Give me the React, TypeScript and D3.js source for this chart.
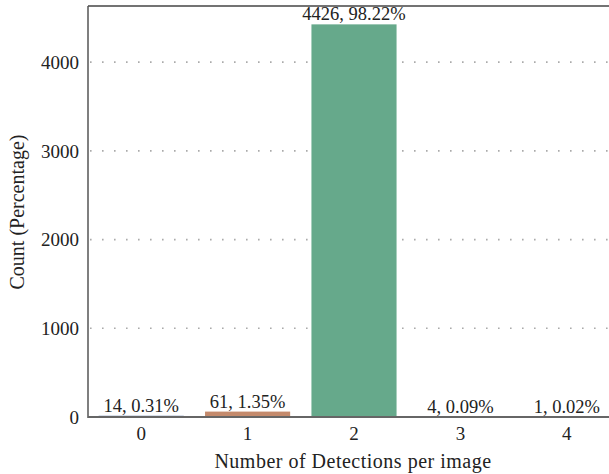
import React from "react";
import * as d3 from "d3";

const categories = ["0", "1", "2", "3", "4"];
const counts = [14, 61, 4426, 4, 1];
const percents = ["0.31%", "1.35%", "98.22%", "0.09%", "0.02%"];
const barColors = ["#5b77a6", "#c48a6c", "#66a98b", "#b65f62", "#8677a9"];
const yTicks = [0, 1000, 2000, 3000, 4000];

const W = 609;
const H = 474;
const left = 88;
const top = 6;
const bottom = 417;
const rightEdge = 620;
const FONT = "'Liberation Serif', 'Times New Roman', serif";

export default function App() {
  const x = d3.scaleBand<string>().domain(categories).range([left, rightEdge]).paddingInner(0.2).paddingOuter(0.1);
  const y = d3.scaleLinear().domain([0, 4633]).range([bottom, top]);

  return (
    <svg width={W} height={H} style={{ position: "absolute", left: 0, top: 0, background: "#fff" }} fontFamily={FONT}>
      {yTicks.filter((t) => t > 0).map((t) => (
        <line key={"g" + t} x1={left + 2} x2={W} y1={y(t)} y2={y(t)} stroke="#aaa" strokeWidth={1.6} strokeDasharray="1.6,10.4" />
      ))}
      {categories.map((c, i) => (
        <rect key={"b" + c} x={x(c)} y={y(counts[i])} width={x.bandwidth()} height={bottom - y(counts[i])} fill={barColors[i]} />
      ))}
      {categories.map((c, i) => (
        <text key={"l" + c} x={(x(c) as number) + x.bandwidth() / 2} y={y(counts[i]) - 4} textAnchor="middle" fontSize={18.5} fill="#222">
          {counts[i]}, {percents[i]}
        </text>
      ))}
      <line x1={left} x2={W} y1={top} y2={top} stroke="#444" strokeWidth={1.5} />
      <line x1={left} x2={left} y1={top} y2={bottom + 1} stroke="#555" strokeWidth={1.5} />
      <line x1={left} x2={W} y1={bottom} y2={bottom} stroke="#666" strokeWidth={2} />
      {yTicks.map((t) => (
        <text key={"t" + t} x={79} y={y(t)} dy="0.35em" textAnchor="end" fontSize={19} fill="#222">
          {t}
        </text>
      ))}
      {categories.map((c) => (
        <text key={"x" + c} x={(x(c) as number) + x.bandwidth() / 2} y={440} textAnchor="middle" fontSize={19} fill="#222">
          {c}
        </text>
      ))}
      <text x={353} y={468} textAnchor="middle" fontSize={20} letterSpacing={0.5} fill="#222">
        Number of Detections per image
      </text>
      <text transform={`translate(24, 212) rotate(-90)`} textAnchor="middle" fontSize={20} fill="#222">
        Count (Percentage)
      </text>
    </svg>
  );
}
